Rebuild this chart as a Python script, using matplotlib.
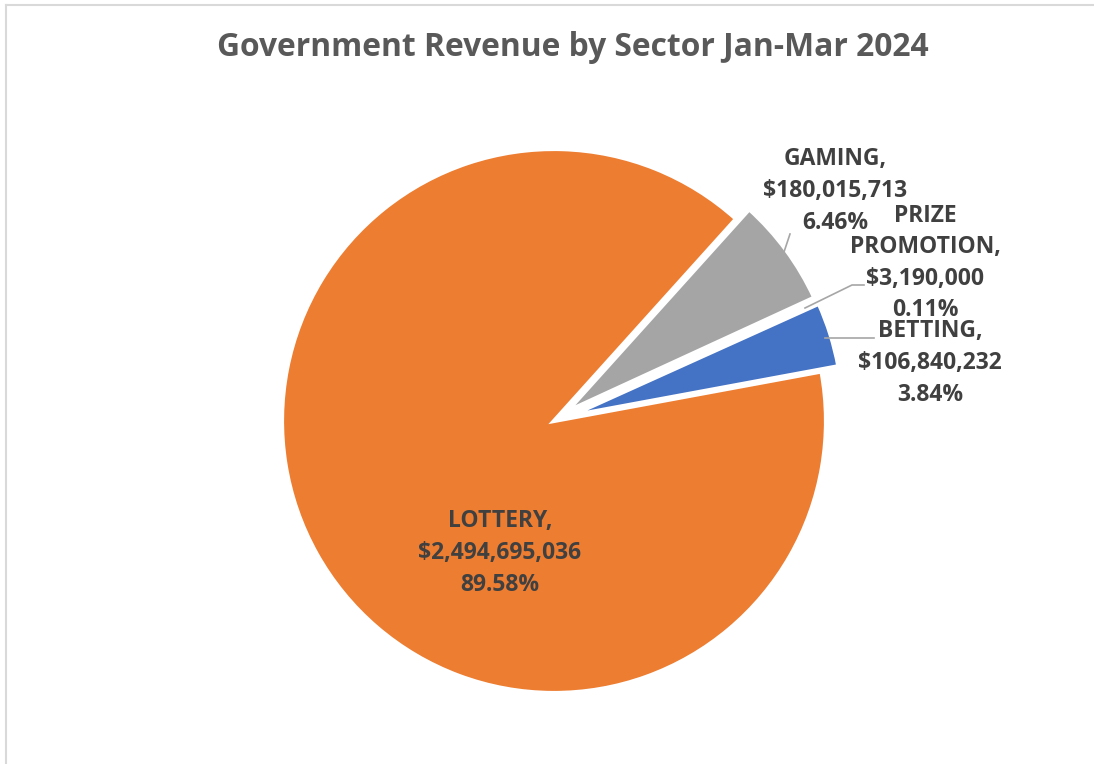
import numpy as np
import matplotlib.pyplot as plt
from matplotlib.lines import Line2D

sectors = ['BETTING', 'LOTTERY', 'GAMING', 'PRIZE PROMOTION']
revenue = [106840232, 2494695036, 180015713, 3190000]
colors = ['#4472C4', '#ED7D31', '#A5A5A5', '#FFC000']
title = 'Government Revenue by Sector Jan-Mar 2024'

W, H = 1094, 764
CX, CY, R = 554, 421, 272   # pie centre / radius in pixels


def px(x, y):
    # pixel position -> data position (pie radius = 1)
    return ((x - CX) / R, (CY - y) / R)


fig = plt.figure(figsize=(W / 100, H / 100), dpi=100)
ax = fig.add_axes([0, 0, 1, 1])

total = sum(revenue)
pct = [v / total * 100 for v in revenue]

ax.pie(revenue, colors=colors, startangle=24.3, counterclock=False,
       explode=[0.065, 0, 0.06, 0.065], radius=1,
       wedgeprops=dict(edgecolor='white', linewidth=3))
ax.set_aspect('auto')
ax.set_xlim(-CX / R, (W - CX) / R)
ax.set_ylim((CY - H) / R, CY / R)
ax.axis('off')

labels = ['%s,\n$%s\n%.2f%%' % (s, format(v, ','), p) for s, v, p in zip(sectors, revenue, pct)]
labels[3] = 'PRIZE\nPROMOTION,\n$%s\n%.2f%%' % (format(revenue[3], ','), pct[3])

lab_pos = [(930, 363), (500, 553), (835, 191), (925, 263)]
kw = dict(ha='center', va='center', fontsize=16.5, fontweight='bold',
          color='#404040', family=['Open Sans', 'DejaVu Sans'], linespacing=1.42)
for lab, (x, y) in zip(labels, lab_pos):
    ax.text(*px(x, y), lab, **kw)

# leader lines
leaders = [[(825, 338), (874, 338)],
           [(783, 255), (790, 234)],
           [(805, 308), (852, 285), (864, 285)]]
for pts in leaders:
    xy = np.array([px(*p) for p in pts])
    ax.plot(xy[:, 0], xy[:, 1], color='#A6A6A6', lw=1.2)

fig.text(573 / W, 1 - 48 / H, title, ha='center', va='center', fontsize=22.9,
         fontweight='bold', color='#595959', family=['Open Sans', 'DejaVu Sans'])

# chart border (left and top only)
fig.add_artist(Line2D([6 / W, 6 / W], [0, 1 - 5 / H], color='#D9D9D9', lw=1.5))
fig.add_artist(Line2D([6 / W, 1], [1 - 5 / H, 1 - 5 / H], color='#D9D9D9', lw=1.5))

plt.savefig('out.png', dpi=100)
